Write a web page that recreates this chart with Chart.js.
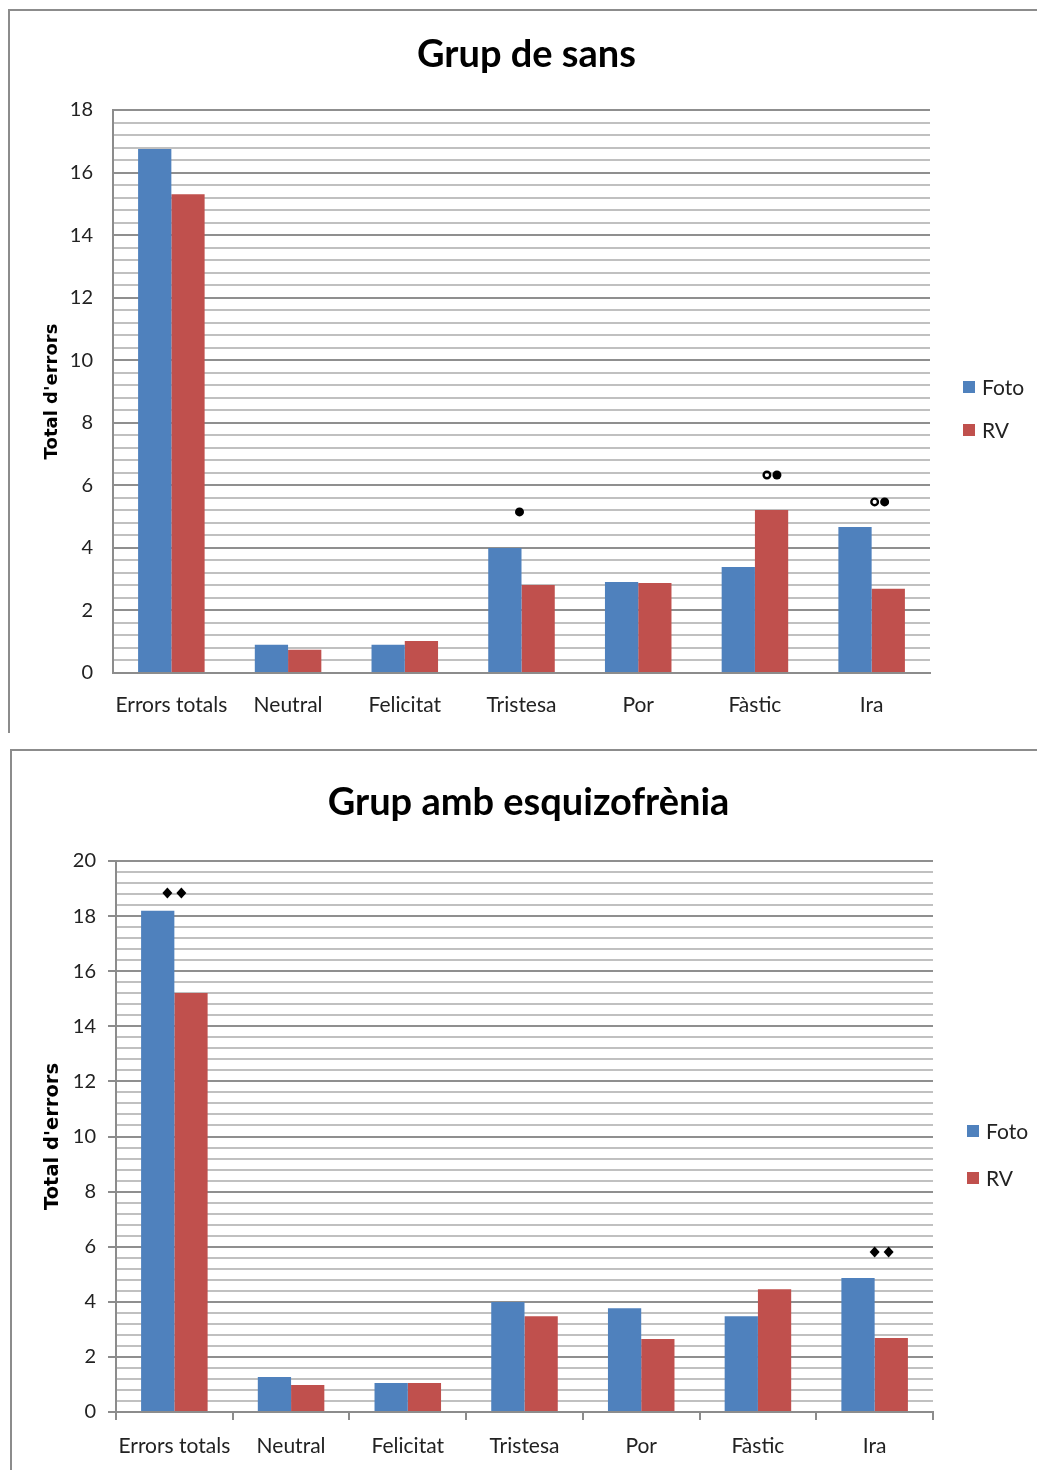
<!DOCTYPE html>
<html><head><meta charset="utf-8">
<script src="https://cdn.jsdelivr.net/npm/chart.js@4.4.1/dist/chart.umd.min.js"></script>
<style>
html,body{margin:0;padding:0;background:#fff;width:1037px;height:1470px;overflow:hidden;}
.frame{position:absolute;border-left:2px solid #8c8c8c;border-top:2px solid #8c8c8c;}
#f1{left:8px;top:9px;width:1040px;height:722px;}
#f2{left:10px;top:749px;width:1040px;height:730px;}
canvas{position:absolute;left:0;}
#c1{top:0;}
#c2{top:740px;}
</style></head>
<body>
<div class="frame" id="f1"></div>
<div class="frame" id="f2"></div>
<canvas id="c1" width="1037" height="740"></canvas>
<canvas id="c2" width="1037" height="730"></canvas>
<script>
// ---- data ----
const categories = ['Errors totals', 'Neutral', 'Felicitat', 'Tristesa', 'Por', 'Fàstic', 'Ira'];
const seriesNames = ['Foto', 'RV'];
const sansFoto = [16.75, 0.90, 0.90, 4.00, 2.91, 3.39, 4.67];
const sansRV   = [15.31, 0.74, 1.02, 2.81, 2.88, 5.21, 2.69];
const esqFoto  = [18.19, 1.27, 1.05, 3.99, 3.77, 3.48, 4.86];
const esqRV    = [15.21, 0.98, 1.05, 3.48, 2.65, 4.46, 2.69];
const sansMax = 18;
const esqMax = 20;
const tickStep = 0.4;
const majorStep = 2;
const sansMarks = ['', '', '', '•', '', '°•', '°•'];
const sansMarkValues = [null, null, null, 5.15, null, 6.33, 5.47];
const esqMarks = ['◆◆', '', '', '', '', '', '◆◆'];
const esqMarkValues = [18.84, null, null, null, null, null, 5.81];
const titles = ['Grup de sans', 'Grup amb esquizofrènia'];
const yTitle = "Total d'errors";

// ---- styles ----
const FONT = 'Lato, "Open Sans", sans-serif';
const YFONT = '"DejaVu Sans", Verdana, sans-serif';
const BLUE = '#4f81bd';
const RED = '#c0504d';
const AXIS = '#8c8c8c';

function isMajor(v) { return Math.abs(v / majorStep - Math.round(v / majorStep)) < 1e-6; }

const marksPlugin = {
  id: 'sigMarks',
  afterDatasetsDraw(chart, args, opts) {
    const ctx = chart.ctx, xs = chart.scales.x, ys = chart.scales.y;
    opts.marks.forEach((m, i) => {
      if (!m || opts.values[i] == null) return;
      const cx = xs.getPixelForValue(i) + (opts.dx[i] || 0);
      const cy = ys.getPixelForValue(opts.values[i]);
      const chars = Array.from(m);
      const gap = chars[0] === '◆' ? 14 : 10;
      chars.forEach((c, k) => {
        const px = cx + (k - (chars.length - 1) / 2) * gap;
        ctx.save();
        ctx.fillStyle = '#000'; ctx.strokeStyle = '#000';
        ctx.beginPath();
        if (c === '•') { ctx.arc(px, cy, 4.5, 0, Math.PI * 2); ctx.fill(); }
        else if (c === '°') { ctx.lineWidth = 2.4; ctx.arc(px, cy, 3.3, 0, Math.PI * 2); ctx.stroke(); }
        else if (c === '◆') {
          ctx.moveTo(px, cy - 5.5); ctx.lineTo(px + 5, cy); ctx.lineTo(px, cy + 5.5); ctx.lineTo(px - 5, cy); ctx.closePath(); ctx.fill();
        }
        ctx.restore();
      });
    });
  }
};

const legendPlugin = {
  id: 'sideLegend',
  afterDraw(chart, args, opts) {
    const ctx = chart.ctx, a = chart.chartArea;
    const x0 = a.right + opts.dx;
    const yc = (a.top + a.bottom) / 2 + opts.dy;
    chart.data.datasets.forEach((ds, i) => {
      const y = yc + i * opts.spacing;
      ctx.save();
      ctx.fillStyle = ds.backgroundColor;
      ctx.fillRect(x0, y - 6, 12, 12);
      ctx.fillStyle = '#222';
      ctx.font = '21px ' + FONT;
      ctx.textBaseline = 'middle';
      ctx.fillText(ds.label, x0 + 19, y + 1);
      ctx.restore();
    });
  }
};

function build(id, title, foto, rv, max, marks, markValues, L) {
  return new Chart(document.getElementById(id), {
    type: 'bar',
    data: {
      labels: categories,
      datasets: [
        { label: seriesNames[0], data: foto, backgroundColor: BLUE, categoryPercentage: 0.57, barPercentage: 1 },
        { label: seriesNames[1], data: rv, backgroundColor: RED, categoryPercentage: 0.57, barPercentage: 1 }
      ]
    },
    options: {
      responsive: false, animation: false, devicePixelRatio: 1,
      layout: { padding: { left: L.padL, right: 0, top: 0, bottom: L.padB }, autoPadding: false },
      plugins: {
        legend: { display: false },
        tooltip: { enabled: false },
        title: { display: true, text: title, color: '#000',
          font: { family: FONT, size: L.titleSize, weight: 'bold', lineHeight: 1.2 },
          padding: { top: L.titleTop, bottom: L.titleBottom } },
        sigMarks: { marks: marks, values: markValues, dx: L.markDx },
        sideLegend: { dx: L.legDx, dy: L.legDy, spacing: L.legSp }
      },
      scales: {
        x: {
          grid: { display: L.xTicks, drawOnChartArea: false, drawTicks: L.xTicks, tickLength: 8, color: AXIS, lineWidth: 2, offset: true },
          border: { display: true, color: AXIS, width: 2 },
          ticks: { font: { family: FONT, size: 21 }, color: '#222', padding: L.xPad, autoSkip: false, maxRotation: 0 },
          afterFit(s) { s.height = L.xH; }
        },
        y: {
          min: 0, max: max,
          ticks: { stepSize: tickStep, autoSkip: false, padding: L.yPad, color: '#222',
            font: { family: FONT, size: 20 },
            callback: v => isMajor(v) ? String(Math.round(v)) : '' },
          grid: { color: c => isMajor(c.tick.value) ? '#8f8f8f' : '#c0c0c0', lineWidth: 2,
            drawTicks: L.yTicks, tickLength: 8,
            tickColor: c => isMajor(c.tick.value) ? AXIS : 'rgba(0,0,0,0)' },
          border: { display: true, color: AXIS, width: 2 },
          title: { display: true, text: yTitle, color: '#000',
            font: { family: YFONT, size: L.yTitleSize, weight: 'bold', lineHeight: 1.2 },
            padding: { top: L.yTitleTop, bottom: 0 } },
          afterFit(s) { s.width = L.yW; }
        },
        yRight: {
          type: 'linear', axis: 'y', position: 'right', display: true,
          grid: { display: false }, ticks: { display: false }, border: { display: false },
          afterFit(s) { s.width = L.rW; }
        }
      }
    },
    plugins: [marksPlugin, legendPlugin]
  });
}

build('c1', titles[0], sansFoto, sansRV, sansMax, sansMarks, sansMarkValues, {
  padL: 16, padB: 7, yW: 97, rW: 107, titleSize: 38, titleTop: 32.2, titleBottom: 32.2,
  xH: 60, xPad: 19.4, xTicks: false, yTicks: false, yPad: 20, yTitleSize: 18, yTitleTop: 25.2,
  markDx: [0, 0, 0, -2, 0, 17, 8], legDx: 33, legDy: -4.5, legSp: 43
});
build('c2', titles[1], esqFoto, esqRV, esqMax, esqMarks, esqMarkValues, {
  padL: 20, padB: 0, yW: 96, rW: 104, titleSize: 38, titleTop: 40.2, titleBottom: 35.2,
  xH: 58, xPad: 13.4, xTicks: true, yTicks: true, yPad: 12, yTitleSize: 19.5, yTitleTop: 21.3,
  markDx: [0, 0, 0, 0, 0, 0, 7], legDx: 34, legDy: -5.5, legSp: 47
});
</script>
</body></html>
